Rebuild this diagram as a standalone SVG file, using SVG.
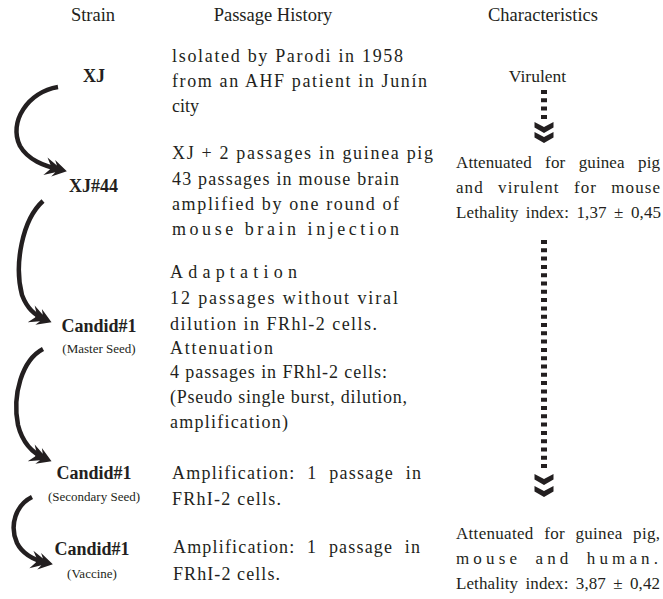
<svg xmlns="http://www.w3.org/2000/svg" width="663" height="599" viewBox="0 0 663 599" font-family="Liberation Serif, serif">
<style>
text{fill:#231f20}
.hd{font-size:18.5px;text-anchor:middle}
.nm{font-size:18px;font-weight:bold;text-anchor:middle}
.sm{font-size:13px;text-anchor:middle}
.ps{font-size:18px}
.ch{font-size:17px}
.cv{fill:none;stroke:#231f20;stroke-width:4.5;stroke-linecap:butt}
.dt{fill:none;stroke:#231f20;stroke-width:6;stroke-dasharray:4 4.3}
</style>
<defs>
<marker id="ah" markerUnits="userSpaceOnUse" viewBox="-20 -12 30 24" refX="0" refY="0" markerWidth="30" markerHeight="24" orient="auto" overflow="visible">
<path d="M6,0 L-8,-8.5 L-5,-3.5 L-16,-9 L-11,-2 L-11,2 L-16,9 L-5,3.5 L-8,8.5 Z" fill="#231f20"/>
</marker>
<path id="chev" d="M-9.5,0 L0,5 L9.5,0 L9.5,5.5 L0,11 L-9.5,5.5 Z" fill="#231f20"/>
</defs>
<rect width="663" height="599" fill="#fff"/>

<g id="headers">
<text class="hd" x="93" y="21">Strain</text>
<text class="hd" x="273" y="21">Passage History</text>
<text class="hd" x="543" y="21">Characteristics</text>
</g>

<g id="node-xj">
<text class="nm" x="94" y="82">XJ</text>
</g>
<g id="node-xj44">
<text class="nm" x="93.5" y="192">XJ#44</text>
</g>
<g id="node-master">
<text class="nm" x="99" y="332">Candid#1</text>
<text class="sm" x="99" y="353">(Master Seed)</text>
</g>
<g id="node-secondary">
<text class="nm" x="94" y="479">Candid#1</text>
<text class="sm" x="94" y="501">(Secondary Seed)</text>
</g>
<g id="node-vaccine">
<text class="nm" x="92" y="555">Candid#1</text>
<text class="sm" x="92" y="578">(Vaccine)</text>
</g>

<g id="history-1">
<text class="ps" x="172" y="62" textLength="231" lengthAdjust="spacing">lsolated by Parodi in 1958</text>
<text class="ps" x="172" y="87" textLength="255" lengthAdjust="spacing">from an AHF patient in Junín</text>
<text class="ps" x="172" y="112">city</text>
</g>
<g id="history-2">
<text class="ps" x="172" y="159" textLength="261" lengthAdjust="spacing">XJ + 2 passages in guinea pig</text>
<text class="ps" x="172" y="185" textLength="227" lengthAdjust="spacing">43 passages in mouse brain</text>
<text class="ps" x="172" y="210" textLength="227" lengthAdjust="spacing">amplified by one round of</text>
<text class="ps" x="172" y="235" textLength="227" lengthAdjust="spacing">mouse brain injection</text>
</g>
<g id="history-3">
<text class="ps" x="170" y="278" textLength="127" lengthAdjust="spacing">Adaptation</text>
<text class="ps" x="170" y="304" textLength="228" lengthAdjust="spacing">12 passages without viral</text>
<text class="ps" x="170" y="330" textLength="207" lengthAdjust="spacing">dilution in FRhl-2 cells.</text>
<text class="ps" x="170" y="354" textLength="103" lengthAdjust="spacing">Attenuation</text>
<text class="ps" x="170" y="378" textLength="217" lengthAdjust="spacing">4 passages in FRhl-2 cells:</text>
<text class="ps" x="170" y="403" textLength="237" lengthAdjust="spacing">(Pseudo single burst, dilution,</text>
<text class="ps" x="170" y="428" textLength="118" lengthAdjust="spacing">amplification)</text>
</g>
<g id="history-4">
<text class="ps" x="172" y="479" textLength="249" lengthAdjust="spacing" word-spacing="6">Amplification: 1 passage in</text>
<text class="ps" x="172" y="505" textLength="109" lengthAdjust="spacing">FRhI-2 cells.</text>
</g>
<g id="history-5">
<text class="ps" x="173" y="553" textLength="247" lengthAdjust="spacing" word-spacing="6">Amplification: 1 passage in</text>
<text class="ps" x="173" y="580" textLength="107" lengthAdjust="spacing">FRhI-2 cells.</text>
</g>

<g id="char-virulent">
<text x="537.5" y="82" text-anchor="middle" style="font-size:17.5px">Virulent</text>
</g>
<g id="char-attenuated-1">
<text class="ch" x="456" y="168" textLength="204" lengthAdjust="spacing" word-spacing="9">Attenuated for guinea pig</text>
<text class="ch" x="456" y="193" textLength="204" lengthAdjust="spacing" word-spacing="9">and virulent for mouse</text>
<text class="ch" x="456" y="218" textLength="205" lengthAdjust="spacing" word-spacing="3">Lethality index: 1,37 ± 0,45</text>
</g>
<g id="char-attenuated-2">
<text class="ch" x="456" y="539" textLength="204" lengthAdjust="spacing" word-spacing="6">Attenuated for guinea pig,</text>
<text class="ch" x="456" y="564" textLength="202" lengthAdjust="spacing" word-spacing="6">mouse and human.</text>
<text class="ch" x="456" y="589" textLength="204" lengthAdjust="spacing" word-spacing="3">Lethality index: 3,87 ± 0,42</text>
</g>

<g id="connectors">
<path class="cv" marker-end="url(#ah)" d="M58,87 C28,92 8,122 20,146 C28,160 44,166 61,170"/>
<path class="cv" marker-end="url(#ah)" d="M43,201 C22,220 14,265 22,295 C27,308 34,315 46,320"/>
<path class="cv" marker-end="url(#ah)" d="M43,349 C22,360 12,395 18,425 C23,445 34,454 46,459"/>
<path class="cv" marker-end="url(#ah)" d="M32,497 C16,505 9,525 17,543 C23,555 34,560 47,563"/>
<line class="dt" x1="544" y1="90" x2="544" y2="121"/>
<use href="#chev" x="544" y="122"/>
<use href="#chev" x="544" y="132"/>
<line class="dt" x1="544" y1="240" x2="544" y2="471"/>
<use href="#chev" x="544" y="474"/>
<use href="#chev" x="544" y="486"/>
</g>
</svg>
